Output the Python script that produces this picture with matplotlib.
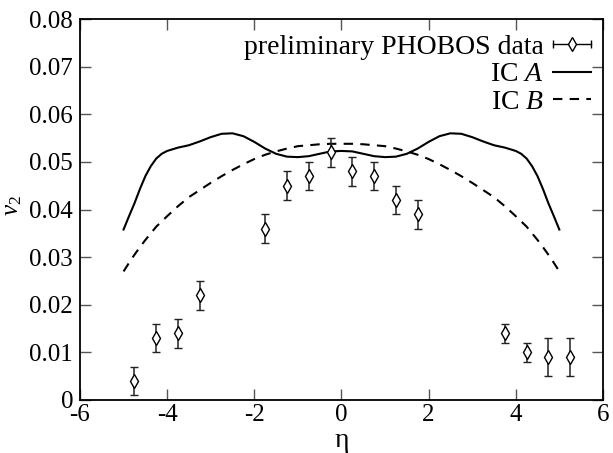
import matplotlib
matplotlib.use("Agg")
import matplotlib.pyplot as plt
from matplotlib.legend_handler import HandlerBase
from matplotlib.lines import Line2D

plt.rcParams['font.family'] = ['Liberation Serif', 'DejaVu Serif']
plt.rcParams['mathtext.fontset'] = 'custom'
plt.rcParams['mathtext.rm'] = 'Liberation Serif'
plt.rcParams['mathtext.it'] = 'Liberation Serif:italic'

# PHOBOS data points
eta_data = [-4.75, -4.25, -3.75, -3.25, -1.75, -1.25, -0.75, -0.25,
            0.25, 0.75, 1.25, 1.75, 3.75, 4.25, 4.75, 5.25]
v2_data = [0.004, 0.013, 0.014, 0.022, 0.036, 0.045, 0.047, 0.052,
           0.048, 0.047, 0.042, 0.039, 0.014, 0.010, 0.009, 0.009]
v2_err = [0.003, 0.003, 0.003, 0.003, 0.003, 0.003, 0.003, 0.003,
          0.003, 0.003, 0.003, 0.003, 0.002, 0.002, 0.004, 0.004]

# courbes hydro (plus de points aux bords où ça tourne vite)
eta_curve = [-5.0, -4.875, -4.75, -4.625, -4.5, -4.375, -4.25, -4.125, -4.0,
             -3.75, -3.5, -3.25, -3.0, -2.75, -2.5, -2.25, -2.0, -1.75,
             -1.5, -1.25, -1.0, -0.75, -0.5, -0.25, 0.0,
             0.25, 0.5, 0.75, 1.0, 1.25, 1.5, 1.75, 2.0, 2.25, 2.5, 2.75,
             3.0, 3.25, 3.5, 3.75, 4.0, 4.125, 4.25, 4.375, 4.5, 4.625,
             4.75, 4.875, 5.0]
v2_icA = [0.0358, 0.0386, 0.0413, 0.0443, 0.0470, 0.0491, 0.0507, 0.0517,
          0.0523, 0.0530, 0.0535, 0.0543, 0.0552, 0.0559, 0.0560, 0.0554,
          0.0542, 0.0528, 0.0517, 0.0511, 0.0510, 0.0512, 0.0517, 0.0522,
          0.0523,
          0.0522, 0.0517, 0.0512, 0.0510, 0.0511, 0.0517, 0.0528, 0.0542,
          0.0554, 0.0560, 0.0559, 0.0552, 0.0543, 0.0535, 0.0530, 0.0523,
          0.0517, 0.0507, 0.0491, 0.0470, 0.0443, 0.0413, 0.0386, 0.0358]
v2_icB = [0.0270, 0.0288, 0.0305, 0.0321, 0.0336, 0.0350, 0.0364, 0.0375,
          0.0386, 0.0407, 0.0426, 0.0441, 0.0456, 0.0470, 0.0483, 0.0495,
          0.0506, 0.0515, 0.0522, 0.0528, 0.0533, 0.0535, 0.0537, 0.0538,
          0.0538,
          0.0538, 0.0537, 0.0535, 0.0533, 0.0528, 0.0522, 0.0515, 0.0506,
          0.0495, 0.0483, 0.0470, 0.0456, 0.0441, 0.0426, 0.0407, 0.0386,
          0.0375, 0.0364, 0.0350, 0.0336, 0.0321, 0.0305, 0.0288, 0.0270]

x_ticks = [-6, -4, -2, 0, 2, 4, 6]
y_ticks = [0, 0.01, 0.02, 0.03, 0.04, 0.05, 0.06, 0.07, 0.08]
y_ticklabels = ['0', '0.01', '0.02', '0.03', '0.04', '0.05', '0.06', '0.07', '0.08']


class HandlerHErr(HandlerBase):
    # barre d'erreur horizontale façon gnuplot dans la légende
    def create_artists(self, legend, orig_handle, xdescent, ydescent,
                       width, height, fontsize, trans):
        y = height / 2. - ydescent
        x0, x1 = -xdescent, width - xdescent
        line = Line2D([x0, x1], [y, y], color='black', lw=1.0)
        caps = Line2D([x0, x1], [y, y], ls='none', marker='|',
                      markersize=6, mec='black', mew=1.0)
        mark = Line2D([(x0 + x1) / 2.], [y], ls='none', marker='d',
                      markersize=7, mfc='white', mec='black', mew=1.0)
        for a in (line, caps, mark):
            a.set_transform(trans)
        return [line, caps, mark]


fig = plt.figure(figsize=(6.13, 4.53), dpi=100)
ax = fig.add_axes([0.1305, 0.117, 0.853, 0.841])

ax.plot(eta_curve, v2_icA, color='black', lw=1.5, label='IC $A$')
ax.plot(eta_curve, v2_icB, color='black', lw=1.5, dashes=(4.5, 3.5),
        label='IC $B$')
ax.errorbar(eta_data, v2_data, yerr=v2_err, fmt='d', color='black',
            ecolor='#222222', elinewidth=1.1, capsize=3, capthick=1.1,
            markersize=7, mfc='white', mec='black', mew=1.0, zorder=3)

ax.set_xlim(-6, 6)
ax.set_ylim(0, 0.08)
ax.set_xticks(x_ticks)
ax.set_xticklabels([str(t) for t in x_ticks])
ax.set_yticks(y_ticks)
ax.set_yticklabels(y_ticklabels)
ax.tick_params(direction='in', length=8, width=1, color='#555555',
               top=True, right=True, labelsize=18)
ax.tick_params(axis='x', pad=3)
ax.tick_params(axis='y', pad=5)
for s in ax.spines.values():
    s.set_linewidth(1.3)

ax.set_xlabel('η', fontsize=20, labelpad=1)
ax.set_ylabel('$v_2$', fontsize=18)
ax.yaxis.set_label_coords(-0.108, 0.51)

data_handle = Line2D([], [])
h_a, h_b = ax.get_legend_handles_labels()[0][:2]
ax.legend([data_handle, h_a, h_b],
          ['preliminary PHOBOS data', 'IC $A$', 'IC $B$'],
          handler_map={data_handle: HandlerHErr()},
          loc='upper right', bbox_to_anchor=(0.977, 0.96),
          markerfirst=False, frameon=False, fontsize=20,
          handlelength=1.35, handletextpad=0.35, labelspacing=0.08,
          borderpad=0.0, borderaxespad=0.0)

fig.savefig('out.png', dpi=100)
